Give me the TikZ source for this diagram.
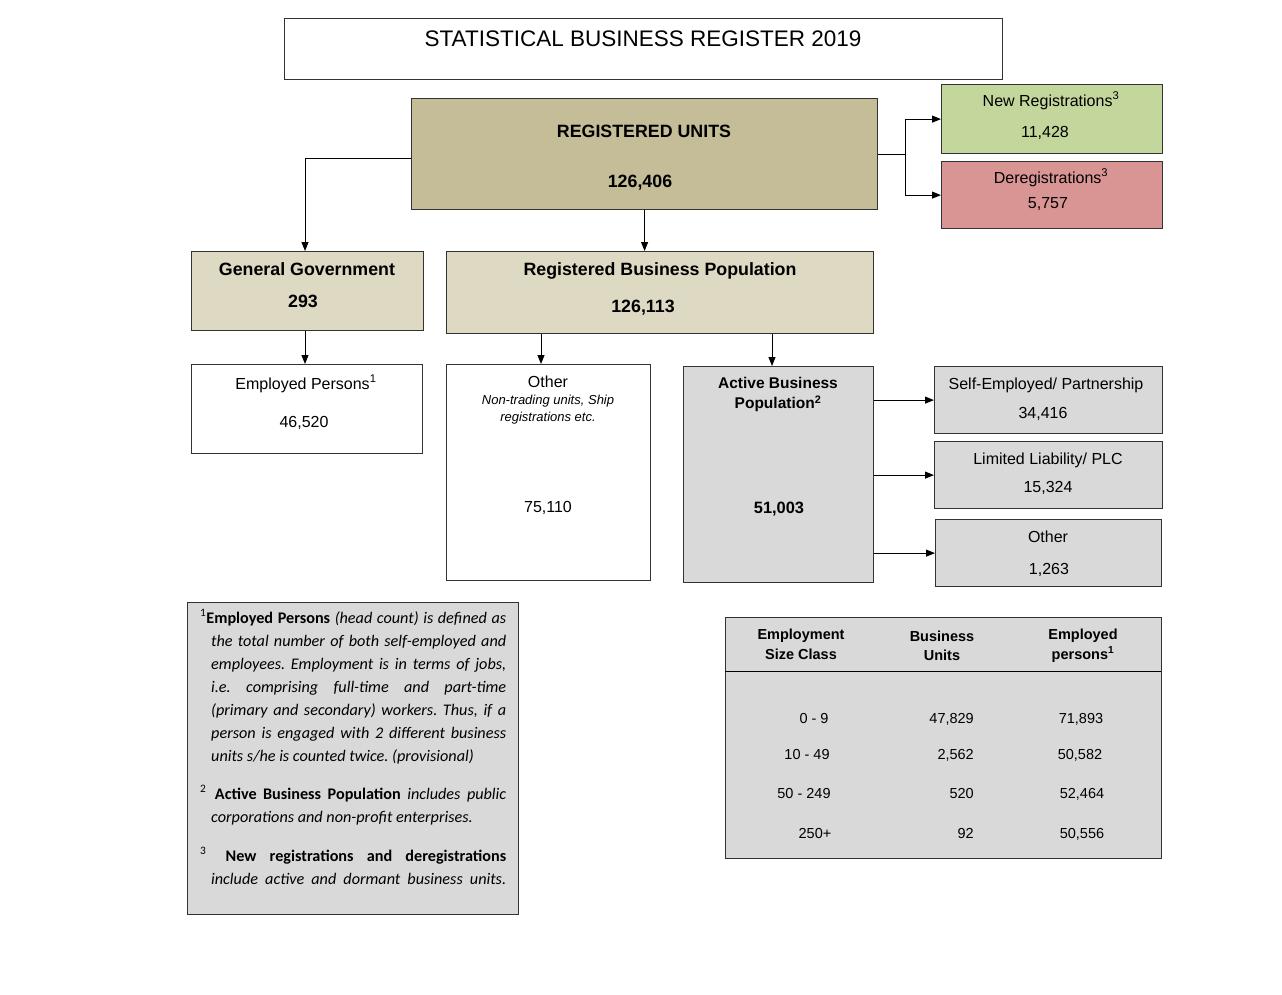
\documentclass[tikz,border=0pt]{standalone}
\usepackage{fontspec}
\setmainfont{Liberation Sans}
\newfontfamily\calfont{Carlito}
\usetikzlibrary{arrows.meta}
\definecolor{ruC}{HTML}{C4BD97}
\definecolor{ggC}{HTML}{DDD9C3}
\definecolor{grC}{HTML}{D9D9D9}
\definecolor{nrC}{HTML}{C3D69B}
\definecolor{drC}{HTML}{D99594}
\definecolor{lineC}{HTML}{333333}
\tikzset{
  box/.style={draw=lineC, line width=1.2pt, inner sep=0pt, anchor=north west},
  txt/.style={inner sep=0pt, anchor=base, font=\fontsize{16}{19}\selectfont},
  btxt/.style={inner sep=0pt, anchor=base, font=\fontsize{17.8}{21}\selectfont\bfseries},
  abtxt/.style={inner sep=0pt, anchor=base, font=\fontsize{15.5}{19}\selectfont\bfseries},
  itxt/.style={inner sep=0pt, anchor=base, font=\fontsize{13}{15}\selectfont\itshape},
  ttxt/.style={inner sep=0pt, anchor=base, font=\fontsize{14.5}{17}\selectfont},
  thtxt/.style={inner sep=0pt, anchor=base, font=\fontsize{14.5}{17}\selectfont\bfseries},
  fntxt/.style={inner sep=0pt, anchor=base west, font=\fontsize{16.2}{19}\selectfont\calfont\itshape\frenchspacing},
  arr/.style={draw=black, line width=1pt, -{Triangle[length=9pt,width=7pt]}},
  conn/.style={draw=black, line width=1pt},
}
\newcommand\bx[6]{\node[box,#6,minimum width={#4-#2},minimum height={#5-#3}] (#1) at (#2,#3) {};}
\newcommand\sups[1]{\textsuperscript{\upshape #1}}
\begin{document}
\begin{tikzpicture}[x=1pt,y=-1pt]
\useasboundingbox (0,0) rectangle (1282,994);
% boxes
\bx{title}{284}{18}{1002}{79}{fill=white}
\bx{ru}{411}{98}{877}{209}{fill=ruC}
\bx{nr}{941}{84}{1162}{153}{fill=nrC}
\bx{dr}{941}{161}{1162}{228}{fill=drC}
\bx{gg}{191}{251}{423}{330}{fill=ggC}
\bx{rbp}{446}{251}{873}{333}{fill=ggC}
\bx{ep}{191}{364}{422}{453}{fill=white}
\bx{oth}{446}{364}{650}{580}{fill=white}
\bx{abp}{683}{366}{873}{582}{fill=grC}
\bx{se}{934}{366}{1162}{433}{fill=grC}
\bx{ll}{934}{441}{1162}{508}{fill=grC}
\bx{oth2}{935}{519}{1161}{586}{fill=grC}
\bx{fn}{187}{602}{518}{914}{fill=grC}
\bx{tab}{725}{617}{1161}{858}{fill=grC}
\coordinate (sepL) at (725,671);
\coordinate (sepR) at (1161,671);
\draw[conn] (sepL) -- (sepR);
% texts
\node[inner sep=0pt, anchor=base, font=\fontsize{22.5}{26}\selectfont] (ttl) at (643,46) {STATISTICAL BUSINESS REGISTER 2019};
\node[btxt] (ru1) at (644,137.5) {REGISTERED UNITS};
\node[btxt] (ru2) at (640,187.5) {126,406};
\node[txt] (nr1) at (1051,106) {New Registrations\textsuperscript{3}};
\node[txt] (nr2) at (1045,137) {11,428};
\node[txt] (dr1) at (1051,183) {Deregistrations\textsuperscript{3}};
\node[txt] (dr2) at (1048,208) {5,757};
\node[btxt] (gg1) at (307,275.5) {General Government};
\node[btxt] (gg2) at (303,307.5) {293};
\node[btxt] (rbp1) at (660,275.5) {Registered Business Population};
\node[btxt] (rbp2) at (643,312.5) {126,113};
\node[txt] (ep1) at (306,389) {Employed Persons\textsuperscript{1}};
\node[txt] (ep2) at (304,427) {46,520};
\node[txt] (ot1) at (548,387) {Other};
\node[itxt] (ot2) at (548,404.5) {Non-trading units, Ship};
\node[itxt] (ot3) at (548,421.5) {registrations etc.};
\node[txt] (ot4) at (548,512) {75,110};
\node[abtxt] (ab1) at (778,388.5) {Active Business};
\node[abtxt] (ab2) at (778,408.5) {Population\textsuperscript{2}};
\node[abtxt, font=\fontsize{16.4}{19}\selectfont\bfseries] (ab3) at (779,513) {51,003};
\node[txt] (se1) at (1046,389) {Self-Employed/ Partnership};
\node[txt] (se2) at (1043,418) {34,416};
\node[txt] (ll1) at (1048,464) {Limited Liability/ PLC};
\node[txt] (ll2) at (1048,492) {15,324};
\node[txt] (o21) at (1048,542) {Other};
\node[txt] (o22) at (1049,574) {1,263};
% table
\node[thtxt] (th1) at (801,639) {Employment};
\node[thtxt] (th2) at (801,659) {Size Class};
\node[thtxt] (th3) at (942,641) {Business};
\node[thtxt] (th4) at (942,660) {Units};
\node[thtxt] (th5) at (1083,639) {Employed};
\node[thtxt] (th6) at (1083,659) {persons\textsuperscript{1}};
\node[ttxt] (r1a) at (814,723) {0 - 9};
\node[ttxt] (r2a) at (807,759) {10 - 49};
\node[ttxt] (r3a) at (804,798) {50 - 249};
\node[ttxt] (r4a) at (815,838) {250+};
\node[ttxt, anchor=base east] (r1b) at (974,723) {47,829};
\node[ttxt, anchor=base east] (r2b) at (974,759) {2,562};
\node[ttxt, anchor=base east] (r3b) at (974,798) {520};
\node[ttxt, anchor=base east] (r4b) at (974,838) {92};
\node[ttxt] (r1c) at (1081,723) {71,893};
\node[ttxt] (r2c) at (1080,759) {50,582};
\node[ttxt] (r3c) at (1082,798) {52,464};
\node[ttxt] (r4c) at (1082,838) {50,556};
% footnotes
\node[fntxt] (f1) at (200,623) {\makebox[306pt][s]{\sups{1}\textbf{\upshape Employed Persons} (head count) is defined as}};
\node[fntxt] (f2) at (211,646) {\makebox[295pt][s]{the total number of both self-employed and}};
\node[fntxt] (f3) at (211,669) {\makebox[295pt][s]{employees. Employment is in terms of jobs,}};
\node[fntxt] (f4) at (211,692) {\makebox[295pt][s]{i.e. comprising full-time and part-time}};
\node[fntxt] (f5) at (211,715) {\makebox[295pt][s]{(primary and secondary) workers. Thus, if a}};
\node[fntxt] (f6) at (211,738) {\makebox[295pt][s]{person is engaged with 2 different business}};
\node[fntxt] (f7) at (211,761) {units s/he is counted twice. (provisional)};
\node[fntxt] (f8) at (200,799) {\makebox[306pt][s]{\sups{2}\hspace{2pt} \textbf{\upshape Active Business Population} includes public}};
\node[fntxt] (f9) at (211,822) {corporations and non-profit enterprises.};
\node[fntxt] (f10) at (200,861) {\makebox[306pt][s]{\sups{3}\hspace{6pt} \textbf{\upshape New registrations and deregistrations}}};
\node[fntxt] (f11) at (211,884) {\makebox[295pt][s]{include active and dormant business units.}};
% connectors
\coordinate (bx) at (905,0);
\coordinate (br) at (ru.east -| bx);
\coordinate (xo) at (541,0);
\coordinate (xa) at (772,0);
\coordinate (xg) at (305,0);
\coordinate (yl) at (0,158);
\draw[conn] (ru.east) -- (br);
\draw[arr] (br) |- (nr.west);
\draw[arr] (br) |- (dr.west);
\draw[arr] (ru.west |- yl) -| (gg.north -| xg);
\draw[arr] (ru.south) -- (ru.south |- rbp.north);
\draw[arr] (gg.south -| xg) -- (ep.north -| xg);
\draw[arr] (rbp.south -| xo) -- (oth.north -| xo);
\draw[arr] (rbp.south -| xa) -- (abp.north -| xa);
\draw[arr] (abp.east |- se.west) -- (se.west);
\draw[arr] (abp.east |- ll.west) -- (ll.west);
\draw[arr] (abp.east |- oth2.west) -- (oth2.west);
\end{tikzpicture}
\end{document}
